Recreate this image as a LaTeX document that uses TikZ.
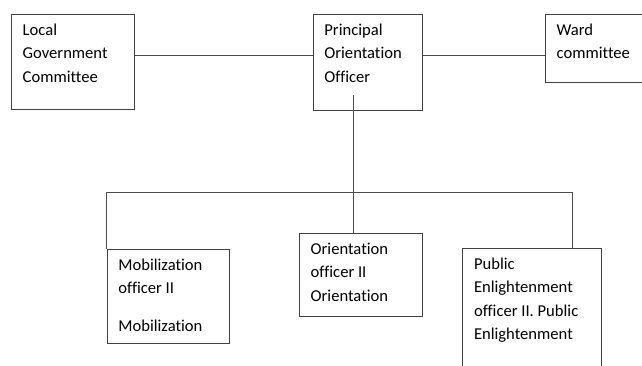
\documentclass[tikz,border=0pt]{standalone}
\usepackage{fontspec}
\setmainfont{Carlito}[Ligatures=NoCommon]

\begin{document}
\begin{tikzpicture}[x=1pt,y=-1pt,
		box/.style={draw=black!75,line width=0.9pt,anchor=north west,inner sep=0pt},
		txt/.style={anchor=north west,align=left,inner xsep=11.5pt,inner ysep=9.5pt,
			font=\fontsize{16.6}{23.4}\selectfont},
		wire/.style={draw=black!70,line width=0.9pt}]
	\useasboundingbox (0,0) rectangle (642,365);
	% top row
	\node [box,minimum width=123.3,minimum height=95.3,
		label={[txt,name=lgc-t]north west:{Local\\Government\\Committee}}] (lgc) at (11,14) {};
	\node [box,minimum width=109.3,minimum height=96,
		label={[txt,name=poo-t]north west:{Principal\\Orientation\\Officer}}] (poo) at (312.7,14) {};
	\node [box,minimum width=110,minimum height=67.7,
		label={[txt,name=wc-t]north west:{Ward\\committee}}] (wc) at (545,14) {};
	% bottom row
	\node [box,minimum width=122.6,minimum height=94,
		label={[txt,name=mo-t]north west:{Mobilization\\officer II\\[14.3pt]Mobilization}}] (mo) at (106.7,249.3) {};
	\node [box,minimum width=123.3,minimum height=82.7,
		label={[txt,name=oo-t]north west:{Orientation\\officer II\\Orientation}}] (oo) at (299,233.3) {};
	\node [box,minimum width=138.4,minimum height=125,
		label={[txt,name=pe-t]north west:{Public\\Enlightenment\\officer II. Public\\Enlightenment}}] (pe) at (462.3,248.3) {};
	% links
	\coordinate (stem) at (353.3,95);
	\coordinate (bus r) at (572.3,192.8);
	\draw [wire] (lgc.east |- 0,55.7) -- (poo.west |- 0,55.7);
	\draw [wire] (poo.east |- 0,55.7) -- (wc.west |- 0,55.7);
	\draw [wire] (stem) -- (stem |- oo.north);
	\draw [wire] (mo.north west) |- (bus r) -- (bus r |- pe.north);
\end{tikzpicture}
\end{document}
